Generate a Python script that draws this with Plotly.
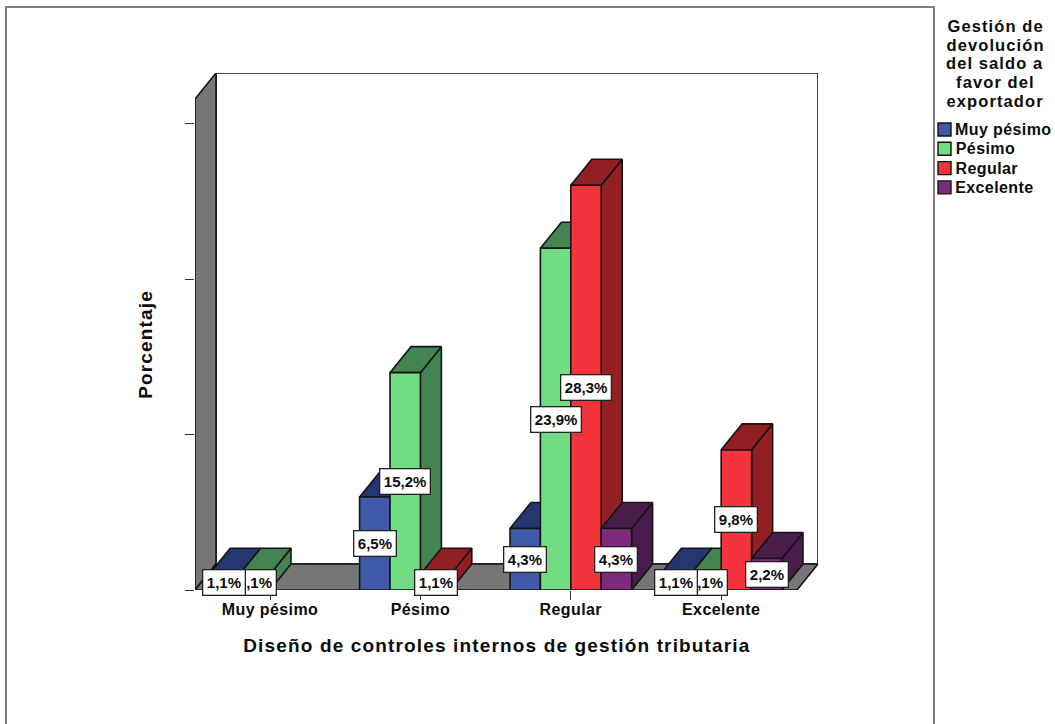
import plotly.graph_objects as go

categories = ["Muy pésimo", "Pésimo", "Regular", "Excelente"]
series_names = ["Muy pésimo", "Pésimo", "Regular", "Excelente"]
muy_pesimo = [1.1, 6.5, 4.3, 1.1]
pesimo = [1.1, 15.2, 23.9, 1.1]
regular = [None, 1.1, 28.3, 9.8]
excelente = [None, None, 4.3, 2.2]
series_values = [muy_pesimo, pesimo, regular, excelente]
y_ticks = [0, 10.87, 21.74, 32.61]
legend_title_lines = ["Gestión de", "devolución", "del saldo a", "favor del", "exportador"]

front_colors = ["#3e5aa8", "#70dd83", "#f4333c", "#7e2a7e"]
side_colors = ["#253771", "#438452", "#921f23", "#4a1c4c"]
wall = "#767676"
edge = "#141414"
ink = "#0c0c0c"

W, H = 1055, 724
L, R, T, B = 195, 818, 73, 590
PX_X = 150.4
PX_Y = 14.3
X0 = (L - 270) / PX_X
X1 = (R - 270) / PX_X
Y1 = (B - T) / PX_Y
DX = 21 / PX_X
DY = 26 / PX_Y
BAR = 30.4 / PX_X
FRONT_RIGHT = (797 - 270) / PX_X
FRONT_TOP = Y1 - DY


def poly(xs, ys, color):
    return go.Scatter(
        x=xs + xs[:1], y=ys + ys[:1], mode="lines", fill="toself", fillcolor=color,
        line=dict(color=edge, width=1.6), hoverinfo="skip", showlegend=False, cliponaxis=False,
    )


fig = go.Figure()
# back wall, side wall, floor
fig.add_trace(poly([X0 + DX, X1, X1, X0 + DX], [DY, DY, Y1, Y1], "#ffffff"))
fig.add_trace(poly([X0, X0 + DX, X0 + DX, X0], [0, DY, Y1, FRONT_TOP], wall))
fig.add_trace(poly([X0, X0 + DX, X1, FRONT_RIGHT], [0, DY, DY, 0], wall))

# bars: painted left to right so nearer faces cover farther ones
for c in range(len(categories)):
    for s in range(len(series_values)):
        v = series_values[s][c]
        if v is None:
            continue
        x0 = c + (s - 2) * BAR
        x1 = x0 + BAR
        fig.add_trace(poly([x1, x1 + DX, x1 + DX, x1], [0, DY, v + DY, v], side_colors[s]))
        fig.add_trace(poly([x0, x0 + DX, x1 + DX, x1], [v, v + DY, v + DY, v], side_colors[s]))
        fig.add_trace(poly([x0, x1, x1, x0], [0, 0, v, v], front_colors[s]))

LABEL = "Liberation Sans"
annotations = []
# value labels: later series first, so the earlier label lies on top
for c in range(len(categories)):
    for s in reversed(range(len(series_values))):
        v = series_values[s][c]
        if v is None:
            continue
        annotations.append(dict(
            x=c + (s - 1.5) * BAR, y=v / 2, xref="x", yref="y", showarrow=False,
            xanchor="center", yanchor="middle",
            text=f"{v:.1f}%".replace(".", ","),
            font=dict(family=LABEL, size=15, color=ink, weight="bold"),
            bgcolor="#ffffff", bordercolor="#222222", borderwidth=1.3, borderpad=3.5,
        ))


def px(x):
    return (x - L) / (R - L)


def py(y):
    return (B - y) / (B - T)


annotations.append(dict(
    x=px(497), y=py(645), xref="paper", yref="paper", showarrow=False,
    xanchor="center", yanchor="middle",
    text="Diseño de controles internos de gestión tributaria",
    font=dict(family=LABEL, size=19, color=ink, weight="bold"),
))
annotations.append(dict(
    x=px(145), y=py(345), xref="paper", yref="paper", showarrow=False, textangle=-90,
    xanchor="center", yanchor="middle",
    text="Porcentaje",
    font=dict(family=LABEL, size=19, color=ink, weight="bold"),
))
for i, line in enumerate(legend_title_lines):
    annotations.append(dict(
        x=px(995), y=py(26 + i * 18.75), xref="paper", yref="paper", showarrow=False,
        xanchor="center", yanchor="middle",
        text=line, font=dict(family=LABEL, size=16.5, color=ink, weight="bold"),
    ))

shapes = [dict(type="rect", xref="paper", yref="paper", x0=px(6), x1=px(934), y0=py(7), y1=py(740),
               line=dict(color="#808080", width=2), fillcolor="rgba(0,0,0,0)", layer="below")]
for i, name in enumerate(series_names):
    yc = 129.5 + i * 19.3
    shapes.append(dict(type="rect", xref="paper", yref="paper", x0=px(938), x1=px(951),
                       y0=py(yc - 6.5), y1=py(yc + 6.5), fillcolor=front_colors[i],
                       line=dict(color=edge, width=1.4)))
    annotations.append(dict(
        x=px(955), y=py(yc), xref="paper", yref="paper", xanchor="left", yanchor="middle",
        showarrow=False, text=name,
        font=dict(family=LABEL, size=16, color=ink, weight="bold"),
    ))

fig.update_layout(
    width=W, height=H, margin=dict(l=L, r=W - R, t=T, b=H - B),
    paper_bgcolor="#ffffff", plot_bgcolor="rgba(0,0,0,0)", showlegend=False,
    shapes=shapes, annotations=annotations,
    xaxis=dict(range=[X0, X1], tickvals=list(range(len(categories))), ticktext=categories,
               ticks="outside", ticklen=9, tickcolor="#333333", tickwidth=1.2,
               ticklabelstandoff=-4,
               showgrid=False, zeroline=False, showline=False,
               tickfont=dict(family=LABEL, size=16, color=ink, weight="bold")),
    yaxis=dict(range=[0, Y1], tickvals=y_ticks, ticktext=["" for _ in y_ticks],
               ticks="outside", ticklen=9, tickcolor="#333333", tickwidth=1.2,
               showgrid=False, zeroline=False, showline=False),
)

spacing_js = """
document.body.style.margin='0';document.body.style.overflow='hidden';
var spacing={'19':'1.15px','16.5':'1.1px','16':'0.4px'};
document.querySelectorAll('svg text').forEach(function(t){
  var s=spacing[String(parseFloat(t.style.fontSize))];
  if(s){t.style.letterSpacing=s;}
});
"""
fig.write_html("out.html", config={"displayModeBar": False}, post_script=spacing_js)
